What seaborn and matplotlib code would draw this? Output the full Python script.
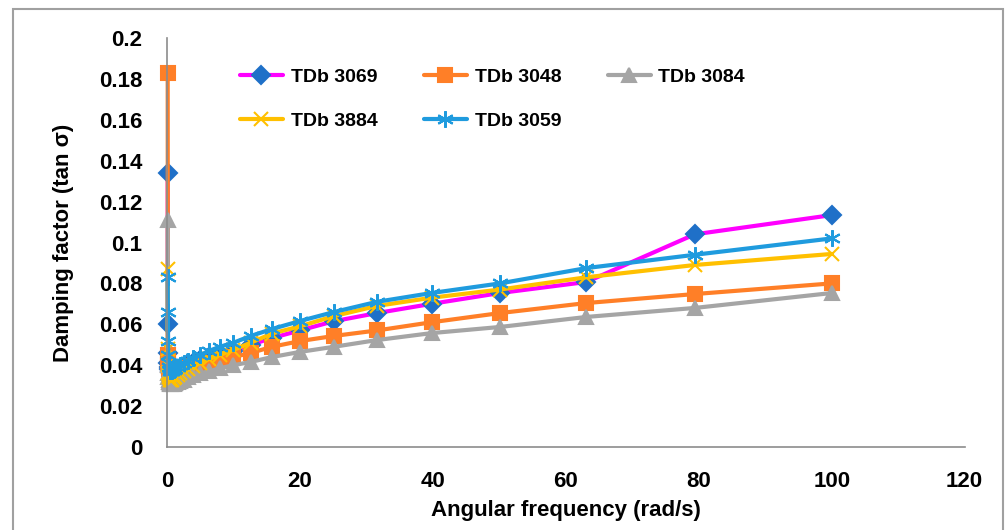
"""Damping factor vs angular frequency for five TDb samples."""

import matplotlib
matplotlib.use("Agg")
import matplotlib.pyplot as plt
from matplotlib.patches import Rectangle
import seaborn as sns

# frequency sweep, rad/s
freq = [0.1, 0.126, 0.158, 0.2, 0.251, 0.316, 0.398, 0.501, 0.631, 0.794,
        1.0, 1.26, 1.58, 2.0, 2.51, 3.16, 3.98, 5.01, 6.31, 7.94,
        10.0, 12.6, 15.8, 20.0, 25.1, 31.6, 39.8, 50.1, 63.1, 79.4, 100.0]

tdb_3069 = [0.134, 0.060, 0.046, 0.041, 0.039, 0.038, 0.037, 0.0365, 0.036, 0.036,
            0.036, 0.0365, 0.037, 0.038, 0.039, 0.040, 0.041, 0.0425, 0.044, 0.0455,
            0.047, 0.050, 0.0533, 0.057, 0.0615, 0.0655, 0.070, 0.0753, 0.0807, 0.104, 0.1134]
tdb_3048 = [0.183, 0.045, 0.042, 0.040, 0.039, 0.038, 0.037, 0.036, 0.0355, 0.0355,
            0.0355, 0.036, 0.0365, 0.037, 0.038, 0.0385, 0.039, 0.040, 0.041, 0.042,
            0.044, 0.046, 0.049, 0.0518, 0.0543, 0.057, 0.061, 0.0655, 0.0704, 0.0748, 0.080]
tdb_3084 = [0.111, 0.040, 0.036, 0.034, 0.033, 0.032, 0.0315, 0.031, 0.031, 0.031,
            0.031, 0.0315, 0.032, 0.0325, 0.033, 0.034, 0.035, 0.036, 0.037, 0.0385,
            0.040, 0.0416, 0.044, 0.0465, 0.049, 0.0523, 0.0557, 0.0587, 0.0636, 0.068, 0.0753]
tdb_3884 = [0.087, 0.048, 0.040, 0.036, 0.035, 0.034, 0.0335, 0.033, 0.033, 0.033,
            0.0335, 0.034, 0.035, 0.036, 0.037, 0.038, 0.0395, 0.041, 0.043, 0.045,
            0.0475, 0.051, 0.0555, 0.059, 0.064, 0.069, 0.073, 0.077, 0.083, 0.089, 0.0944]
tdb_3059 = [0.083, 0.066, 0.052, 0.045, 0.041, 0.039, 0.038, 0.037, 0.037, 0.037,
            0.0375, 0.038, 0.039, 0.040, 0.041, 0.042, 0.0435, 0.045, 0.047, 0.049,
            0.051, 0.0543, 0.0577, 0.0616, 0.066, 0.071, 0.0753, 0.080, 0.0875, 0.094, 0.102]

series = [
    ("TDb 3069", tdb_3069, "#FF00FF", "D", "#1F70C8", 9),
    ("TDb 3048", tdb_3048, "#FF7F27", "s", "#FF7F27", 10),
    ("TDb 3084", tdb_3084, "#A5A5A5", "^", "#A5A5A5", 10),
    ("TDb 3884", tdb_3884, "#FFC000", "x", "#FFC000", 10),
    ("TDb 3059", tdb_3059, "#1F9BDE", (6, 2, 0), "#1F9BDE", 12),
]

sns.set_style("white")
plt.rcParams["font.family"] = ["Liberation Sans", "DejaVu Sans"]
plt.rcParams["font.weight"] = "bold"
plt.rcParams["text.color"] = "black"
plt.rcParams["axes.labelcolor"] = "black"
plt.rcParams["xtick.color"] = "black"
plt.rcParams["ytick.color"] = "black"

fig = plt.figure(figsize=(10.08, 5.30), dpi=100)
ax = fig.add_axes([0.1657, 0.1566, 0.7913, 0.7717])

for label, vals, color, marker, mcolor, msize in series:
    sns.lineplot(x=freq, y=vals, ax=ax, color=color, linewidth=3,
                 marker=marker, markersize=msize, markerfacecolor=mcolor,
                 markeredgecolor=mcolor, markeredgewidth=1.5, label=label,
                 clip_on=False)

ax.set_xlim(0, 120)
ax.set_ylim(0, 0.2)
ax.set_xticks(range(0, 121, 20))
ax.set_yticks([i * 0.02 for i in range(11)])
ax.set_yticklabels(["0", "0.02", "0.04", "0.06", "0.08", "0.1",
                    "0.12", "0.14", "0.16", "0.18", "0.2"])

for side in ("top", "right"):
    ax.spines[side].set_visible(False)
for side in ("left", "bottom"):
    ax.spines[side].set_color("#8C8C8C")
    ax.spines[side].set_linewidth(1.2)
ax.tick_params(axis="both", direction="out", length=6, width=1.2,
               color="#8C8C8C", labelcolor="black", labelsize=16)
ax.tick_params(axis="x", pad=11)
ax.tick_params(axis="y", pad=12)
for t in ax.get_xticklabels() + ax.get_yticklabels():
    t.set_fontweight("bold")

ax.set_xlabel("Angular frequency (rad/s)", fontsize=16, fontweight="bold", labelpad=6)
ax.set_ylabel("Damping factor (tan σ)", fontsize=16, fontweight="bold", labelpad=18)

# Excel fills legend rows first; matplotlib fills columns, so reorder
handles, labels = ax.get_legend_handles_labels()
order = [0, 3, 1, 4, 2]
ax.legend([handles[i] for i in order], [labels[i] for i in order],
          ncol=3, frameon=False, loc="upper left", bbox_to_anchor=(0.0915, 0.925),
          borderpad=0, borderaxespad=0, handlelength=2.2, handletextpad=0.4,
          columnspacing=2.4, labelspacing=1.35, prop={"weight": "bold", "size": 14})

# outer chart border, cut off at the bottom like the original
fig.patches.append(Rectangle((0.0129, -0.05), 0.9821, 1.033, transform=fig.transFigure,
                             fill=False, edgecolor="#A0A0A0", linewidth=1.5))

fig.savefig("out.png", dpi=100)
plt.close(fig)
